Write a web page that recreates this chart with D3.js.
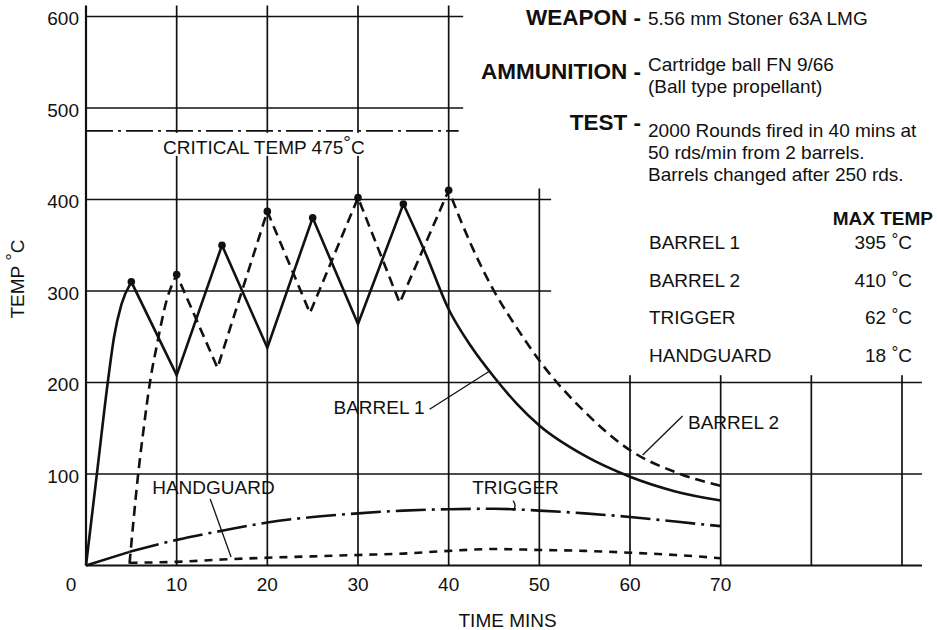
<!DOCTYPE html>
<html>
<head>
<meta charset="utf-8">
<script src="https://cdn.jsdelivr.net/npm/d3@7"></script>
<style>
  html, body { margin: 0; padding: 0; background: #fff; }
  svg { display: block; }
  text { font-family: "Liberation Sans", Arial, Helvetica, sans-serif; fill: #111; }
</style>
</head>
<body>
<svg id="chart" width="937" height="630"></svg>
<script>
// Stoner 63A LMG firing test: component temperatures over time.

// Axis ticks
const xTicks = [0, 10, 20, 30, 40, 50, 60, 70];
const yTicks = [100, 200, 300, 400, 500, 600];

// Barrel 1 (minutes, °C): warm-up, firing sawtooth, cooling
const barrel1Warmup  = [[0, 0], [1.2, 100], [2.4, 200], [3.1, 250], [3.9, 285], [5, 310]];
const barrel1Firing  = [[5, 310], [10, 208], [15, 350], [20, 238], [25, 380], [30, 264], [35, 395]];
const barrel1Cooling = [[35, 395], [37.5, 340], [40, 280], [42.5, 239], [45, 206], [47.5, 177],
                        [50, 153], [55, 120], [60, 97], [65, 81], [70, 71]];

// Barrel 2 (minutes, °C)
const barrel2Warmup  = [[4.8, 2], [5.2, 45], [5.7, 95], [6.3, 145], [7.1, 203], [7.8, 240], [8.9, 290], [10, 318]];
const barrel2Firing  = [[10, 318], [14.5, 216], [20, 387], [24.7, 276], [30, 402], [34.6, 287], [40, 410]];
const barrel2Cooling = [[40, 410], [42.5, 350], [45, 300], [47.5, 260], [50, 224], [55, 168],
                        [60, 126], [65, 102], [70, 87]];

// Trigger (minutes, °C)
const triggerStart = [[0, 0], [4.8, 15]];
const trigger = [[4.8, 15], [10, 28], [15, 38], [20, 47], [25, 53], [30, 57], [35, 60], [40, 61.5],
                 [45, 62], [50, 60], [55, 57], [60, 53], [65, 48], [70, 43]];

// Handguard (minutes, °C)
const handguard = [[4.8, 3], [10, 4], [15, 6.5], [20, 8.5], [25, 10], [30, 11.5], [35, 13], [40, 16],
                   [45, 18], [50, 17], [55, 16], [60, 14], [65, 11.5], [70, 8]];

const criticalTemp = 475;

// Maximum temperature table
const maxLabels = ["BARREL 1", "BARREL 2", "TRIGGER", "HANDGUARD"];
const maxValues = [395, 410, 62, 18];

// Test description
const infoHeads = ["WEAPON -", "AMMUNITION -", "TEST -"];
const infoLines = [
  ["5.56 mm Stoner 63A LMG"],
  ["Cartridge ball FN 9/66", "(Ball type propellant)"],
  ["2000 Rounds fired in 40 mins at", "50 rds/min from 2 barrels.", "Barrels changed after 250 rds."]
];

// ---------------------------------------------------------------------------
const svg = d3.select("#chart");
const W = 937, H = 630;
svg.append("rect").attr("width", W).attr("height", H).attr("fill", "#fff");

const x = d3.scaleLinear().domain([0, 90]).range([86, 902]);
const y = d3.scaleLinear().domain([0, 600]).range([565.5, 16.5]);

const ink = "#111";
const FS = 19;

// Grid layout (in data units)
const gridTop = 612;
const hLines = [
  { v: 600, x1: 0, x2: 41.6 },
  { v: 500, x1: 0, x2: 41.6 },
  { v: 400, x1: 0, x2: 51.3 },
  { v: 300, x1: 0, x2: 51.3 },
  { v: 200, x1: 0, x2: 92.2 },
  { v: 100, x1: 0, x2: 92.2 },
  { v: 0,   x1: 0, x2: 92.2 }
];
const vLines = [
  { t: 0,  y1: 0, y2: gridTop },
  { t: 10, y1: 0, y2: gridTop },
  { t: 20, y1: 0, y2: gridTop },
  { t: 30, y1: 0, y2: gridTop },
  { t: 40, y1: 0, y2: gridTop },
  { t: 50, y1: 0, y2: 412 },
  { t: 60, y1: 0, y2: 208 },
  { t: 70, y1: 0, y2: 208 },
  { t: 80, y1: 0, y2: 208 },
  { t: 90, y1: 0, y2: 208 }
];

const grid = svg.append("g").attr("stroke", ink).attr("fill", "none");
grid.selectAll("line.h").data(hLines).join("line")
  .attr("class", "h")
  .attr("x1", d => x(d.x1)).attr("x2", d => x(d.x2))
  .attr("y1", d => y(d.v)).attr("y2", d => y(d.v))
  .attr("stroke-width", d => d.v === 0 ? 2.2 : 1.6);
grid.selectAll("line.v").data(vLines).join("line")
  .attr("class", "v")
  .attr("x1", d => x(d.t)).attr("x2", d => x(d.t))
  .attr("y1", d => y(d.y1)).attr("y2", d => y(d.y2))
  .attr("stroke-width", d => d.t === 0 ? 2.2 : 1.7);

// Critical temperature line and its label (label sits in a white gap of the grid)
svg.append("line")
  .attr("x1", x(0)).attr("x2", x(41.1))
  .attr("y1", y(criticalTemp)).attr("y2", y(criticalTemp))
  .attr("stroke", ink).attr("stroke-width", 1.6)
  .attr("stroke-dasharray", "27,5,3,5");
svg.append("rect")
  .attr("x", x(7.5)).attr("y", y(criticalTemp) + 2)
  .attr("width", x(32) - x(7.5)).attr("height", 23)
  .attr("fill", "#fff");

// Text ending in a raised degree sign and "C"
function degText(sel, prefix, suffixSpace, degSize, degRaise) {
  const size = degSize || FS, raise = degRaise || 5;
  sel.append("tspan").text(prefix + (suffixSpace ? " " : ""));
  sel.append("tspan").attr("dy", -raise).attr("font-size", size).text("°");
  sel.append("tspan").attr("dy", raise).text("C");
  return sel;
}

degText(svg.append("text")
  .attr("x", x(8.5)).attr("y", y(criticalTemp) + 23)
  .attr("font-size", FS), "CRITICAL TEMP 475", false);

// Axis tick labels
svg.append("g").selectAll("text").data(xTicks).join("text")
  .attr("x", d => x(d) + (d === 0 ? -15 : 0))
  .attr("y", 591)
  .attr("text-anchor", "middle")
  .attr("font-size", FS)
  .text(d => d);

svg.append("g").selectAll("text").data(yTicks).join("text")
  .attr("x", 79)
  .attr("y", d => y(d) + 8.5)
  .attr("text-anchor", "end")
  .attr("font-size", FS)
  .text(d => d);

// Axis titles
svg.append("text")
  .attr("x", x(46.5)).attr("y", 627)
  .attr("text-anchor", "middle")
  .attr("font-size", FS)
  .text("TIME MINS");

degText(svg.append("text")
  .attr("transform", "translate(24,279) rotate(-90)")
  .attr("text-anchor", "middle")
  .attr("font-size", FS), "TEMP", true);

// Series
const lineLin = d3.line().x(d => x(d[0])).y(d => y(d[1]));
const lineMono = d3.line().x(d => x(d[0])).y(d => y(d[1])).curve(d3.curveMonotoneX);

function joinPaths(parts) {
  return parts.map((p, i) => i === 0 ? p : p.replace(/^M/, "L")).join("");
}

const series = svg.append("g").attr("fill", "none").attr("stroke", ink);

// Barrel 1 — solid
series.append("path")
  .attr("d", joinPaths([lineMono(barrel1Warmup), lineLin(barrel1Firing), lineMono(barrel1Cooling)]))
  .attr("stroke-width", 2.6)
  .attr("stroke-linejoin", "miter");

// Barrel 2 — dashed
series.append("path")
  .attr("d", joinPaths([lineMono(barrel2Warmup), lineLin(barrel2Firing), lineMono(barrel2Cooling)]))
  .attr("stroke-width", 2.6)
  .attr("stroke-dasharray", "10,6");

// Trigger — solid start then dash-dot
series.append("path")
  .attr("d", lineLin(triggerStart))
  .attr("stroke-width", 2.4);
series.append("path")
  .attr("d", lineMono(trigger))
  .attr("stroke-width", 2.6)
  .attr("stroke-dasharray", "30,6,3,6");

// Handguard — short dashes
series.append("path")
  .attr("d", lineMono(handguard))
  .attr("stroke-width", 2.6)
  .attr("stroke-dasharray", "8,7");

// Peak markers on the firing sawtooth
function peaks(pts) {
  return pts.filter((p, i) => {
    const prev = pts[i - 1], next = pts[i + 1];
    return (!prev || p[1] > prev[1]) && (!next || p[1] > next[1]);
  });
}
svg.append("g").selectAll("circle")
  .data(peaks(barrel1Firing).concat(peaks(barrel2Firing)))
  .join("circle")
  .attr("cx", d => x(d[0])).attr("cy", d => y(d[1]))
  .attr("r", 3.8).attr("fill", ink);

// Series labels with leaders
const leaders = svg.append("g").attr("stroke", ink).attr("fill", "none").attr("stroke-width", 1.3);
leaders.append("line").attr("x1", x(37.9)).attr("y1", y(170.7)).attr("x2", x(44.4)).attr("y2", y(211.8));
leaders.append("line").attr("x1", x(65.8)).attr("y1", y(163.4)).attr("x2", x(61.4)).attr("y2", y(120.8));
leaders.append("line").attr("x1", x(13.7)).attr("y1", y(72.7)).attr("x2", x(16)).attr("y2", y(9.3));
leaders.append("path")
  .attr("d", `M${x(47.1)},${y(71)} Q${x(47.1) + 4},${y(65.5)} ${x(47.1)},${y(60)}`);

const seriesLabels = [
  { text: "BARREL 1",  t: 27.3, v: 165.2 },
  { text: "BARREL 2",  t: 66.4, v: 149.7 },
  { text: "HANDGUARD", t: 7.3,  v: 78.1 },
  { text: "TRIGGER",   t: 42.6, v: 78.1 }
];
svg.append("g").selectAll("text").data(seriesLabels).join("text")
  .attr("x", d => x(d.t)).attr("y", d => y(d.v))
  .attr("font-size", FS)
  .text(d => d.text);

// Test description block
const headY = [25, 79, 130];
const lineY = [[25], [71, 93], [137, 159, 181]];
infoHeads.forEach((h, i) => {
  svg.append("text")
    .attr("x", 641).attr("y", headY[i])
    .attr("text-anchor", "end")
    .attr("font-size", 22.5).attr("font-weight", "bold")
    .text(h);
  infoLines[i].forEach((s, j) => {
    svg.append("text")
      .attr("x", 648).attr("y", lineY[i][j])
      .attr("font-size", FS)
      .text(s);
  });
});

// Maximum temperature table
svg.append("text")
  .attr("x", 933).attr("y", 225)
  .attr("text-anchor", "end")
  .attr("font-size", FS).attr("font-weight", "bold")
  .text("MAX TEMP");
const rowY = [249, 287, 324, 362];
maxLabels.forEach((lab, i) => {
  svg.append("text")
    .attr("x", 649).attr("y", rowY[i])
    .attr("font-size", FS)
    .text(lab);
  degText(svg.append("text")
    .attr("x", 912).attr("y", rowY[i])
    .attr("text-anchor", "end")
    .attr("font-size", FS), String(maxValues[i]), true, 17, 4);
});
</script>
</body>
</html>
